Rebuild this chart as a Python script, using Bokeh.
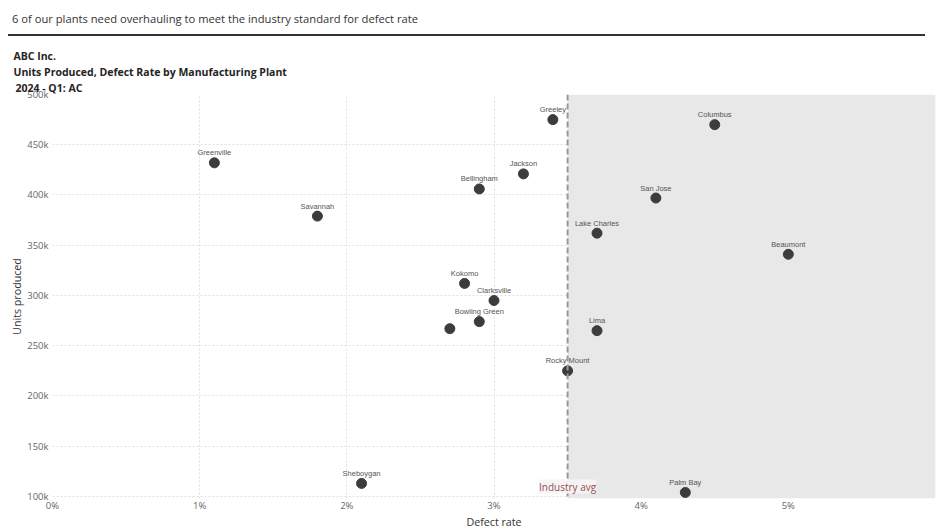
from bokeh.plotting import figure
from bokeh.models import (ColumnDataSource, LabelSet, Span, BoxAnnotation, Label, Title,
                          NumeralTickFormatter, FixedTicker, Range1d, Div)
from bokeh.core.properties import value
from bokeh.layouts import column
from bokeh.embed import file_html
from bokeh.resources import INLINE

# ---- data ----
plants = ["Greeley", "Columbus", "Greenville", "Jackson", "Bellingham", "San Jose",
          "Savannah", "Lake Charles", "Beaumont", "Kokomo", "Clarksville",
          "Bowling Green", "", "Lima", "Rocky Mount", "Sheboygan", "Palm Bay"]
defect_rate = [0.034, 0.045, 0.011, 0.032, 0.029, 0.041, 0.018, 0.037, 0.050,
               0.028, 0.030, 0.029, 0.027, 0.037, 0.035, 0.021, 0.043]
units_produced = [475000, 470000, 432000, 421000, 406000, 397000, 379000, 362000,
                  341000, 312000, 295000, 274000, 267000, 265000, 225000, 113000, 104000]
industry_avg = 0.035
x_ticks = [0.0, 0.01, 0.02, 0.03, 0.04, 0.05]
y_ticks = [100000, 150000, 200000, 250000, 300000, 350000, 400000, 450000, 500000]
x_limits = (0.0, 0.06)
y_limits = (98000, 500000)

headline = "6 of our plants need overhauling to meet the industry standard for defect rate"
titles = ["ABC Inc.", "Units Produced, Defect Rate by Manufacturing Plant", "2024 - Q1: AC"]

UI_FONT = "Open Sans"

header = Div(
    text=('<div style="font-family:\'Open Sans\';font-size:11.2px;color:#333333;'
          'margin-left:3px;width:917px;height:31px;box-sizing:border-box;'
          'padding:5px 0 0 4px;line-height:18px;border-bottom:2px solid #333333;'
          'white-space:nowrap;">' + headline + '</div>'),
    width=942, height=36)

p = figure(width=942, height=485, output_backend="svg", toolbar_location=None,
           x_range=Range1d(*x_limits), y_range=Range1d(*y_limits),
           min_border_left=52, min_border_right=7, min_border_bottom=27, min_border_top=0)
p.outline_line_color = None
p.background_fill_color = "white"
p.border_fill_color = "white"

# shaded "above industry average" region
p.add_layout(BoxAnnotation(left=industry_avg, fill_color="#e8e8e8", fill_alpha=1.0,
                           line_color=None, level="underlay"))

# axes
for ax in (p.xaxis[0], p.yaxis[0]):
    ax.axis_line_color = None
    ax.major_tick_line_color = None
    ax.minor_tick_line_color = None
    ax.major_tick_out = 0
    ax.major_tick_in = 0
    ax.minor_tick_out = 0
    ax.minor_tick_in = 0
    ax.major_label_text_font = UI_FONT
    ax.major_label_text_font_size = "9.5px"
    ax.major_label_text_color = "#666666"
    ax.axis_label_text_font = UI_FONT
    ax.axis_label_text_font_size = "10.7px"
    ax.axis_label_text_font_style = "normal"
    ax.axis_label_text_color = "#333333"

p.xaxis.ticker = FixedTicker(ticks=x_ticks)
p.yaxis.ticker = FixedTicker(ticks=y_ticks)
p.xaxis.formatter = NumeralTickFormatter(format="0%")
p.yaxis.formatter = NumeralTickFormatter(format="0a")
p.xaxis.axis_label = "Defect rate"
p.yaxis.axis_label = "Units produced"
p.xaxis.major_label_standoff = 0
p.xaxis.axis_label_standoff = 0
p.yaxis.major_label_standoff = 4
p.yaxis.axis_label_standoff = 0

p.xgrid.ticker = FixedTicker(ticks=x_ticks)
p.ygrid.ticker = FixedTicker(ticks=y_ticks)
for g in (p.xgrid[0], p.ygrid[0]):
    g.grid_line_color = "#e0e0e0"
    g.grid_line_dash = "2 2"
    g.grid_line_width = 1

# industry average line
p.add_layout(Span(location=industry_avg, dimension="height", line_color="#999999",
                  line_width=2, line_dash="6 3"))

src = ColumnDataSource(dict(x=defect_rate, y=units_produced, name=plants))
p.scatter("x", "y", source=src, size=10, fill_color="#3c3c3c", line_color="#3c3c3c")

p.add_layout(LabelSet(x="x", y="y", text="name", source=src, x_offset=0, y_offset=10,
                      text_align="center", text_baseline="middle",
                      text_font=value("Liberation Sans"), text_font_size=value("7.5px"),
                      text_color=value("#555555")))

p.add_layout(Label(x=industry_avg, y=y_limits[0], y_offset=5, text="Industry avg",
                   text_align="center", text_baseline="bottom",
                   text_font=UI_FONT, text_font_size="10px", text_color="#9b4a55",
                   background_fill_color="#f4f4f4", background_fill_alpha=0.95))

# titles (added bottom-up: first added sits closest to the plot)
for i, txt in enumerate(reversed(titles)):
    p.add_layout(Title(text=txt, text_font=UI_FONT, text_font_size="10.5px",
                       text_font_style="bold", text_color="#252423",
                       align="left", offset=-37 if i == 0 else -39, standoff=0), "above")

layout = column(header, p)
open("out.html", "w").write(file_html(layout, INLINE))
